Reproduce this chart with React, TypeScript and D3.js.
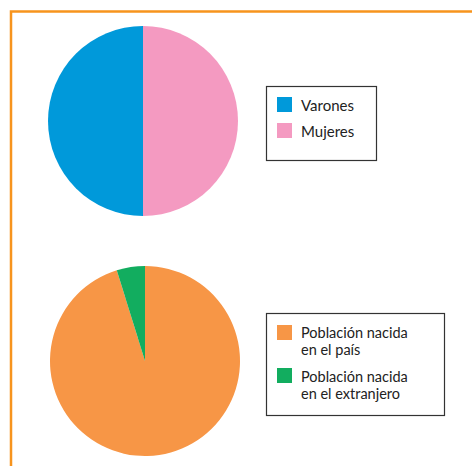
import React from "react";
import * as d3 from "d3";

const sexLabels = ["Varones", "Mujeres"];
const sexValues = [50, 50];
const sexColors = ["#0099da", "#f49ac1"];

const originLabels = [["Población nacida", "en el país"], ["Población nacida", "en el extranjero"]];
const originValues = [95.2, 4.8];
const originColors = ["#f79646", "#12ad5f"];

const W = 472, H = 466;

function Pie({ cx, cy, r, values, colors, ccw }: { cx: number; cy: number; r: number; values: number[]; colors: string[]; ccw?: boolean }) {
  const arcs = d3.pie<number>().sort(null).startAngle(0).endAngle(ccw ? -2 * Math.PI : 2 * Math.PI)(values);
  const arc = d3.arc<d3.PieArcDatum<number>>().innerRadius(0).outerRadius(r);
  return (
    <g transform={`translate(${cx},${cy})`}>
      {arcs.map((a, i) => (
        <path key={i} d={arc(a) || ""} fill={colors[i]} />
      ))}
    </g>
  );
}

export default function App() {
  const font = "Lato, 'Open Sans', sans-serif";
  return (
    <svg width={W} height={H} style={{ position: "absolute", left: 0, top: 0 }} fontFamily={font}>
      <rect x={0} y={0} width={W} height={H} fill="#fff" />
      <path d={`M11,${H} L11,11.5 L${W},11.5`} fill="none" stroke="#f7941d" strokeWidth={2.5} />
      <Pie cx={143} cy={121} r={95} values={sexValues} colors={sexColors} ccw />
      <Pie cx={145} cy={361} r={95} values={originValues} colors={originColors} />

      <rect x={266.5} y={86.5} width={110} height={74} fill="#fff" stroke="#333" strokeWidth={1.2} />
      {sexLabels.map((l, i) => (
        <g key={l}>
          <rect x={277} y={97 + i * 26} width={15} height={15} fill={sexColors[i]} />
          <text x={301} y={111 + i * 26} fontSize={15} fill="#222">{l}</text>
        </g>
      ))}

      <rect x={266.5} y={313.5} width={178} height={102} fill="#fff" stroke="#333" strokeWidth={1.2} />
      {originLabels.map((lines, i) => (
        <g key={i}>
          <rect x={277} y={325 + i * 43} width={15} height={15} fill={originColors[i]} />
          {lines.map((t, j) => (
            <text key={j} x={301} y={338 + i * 44 + j * 16.5} fontSize={14.5} fill="#222">{t}</text>
          ))}
        </g>
      ))}
    </svg>
  );
}
